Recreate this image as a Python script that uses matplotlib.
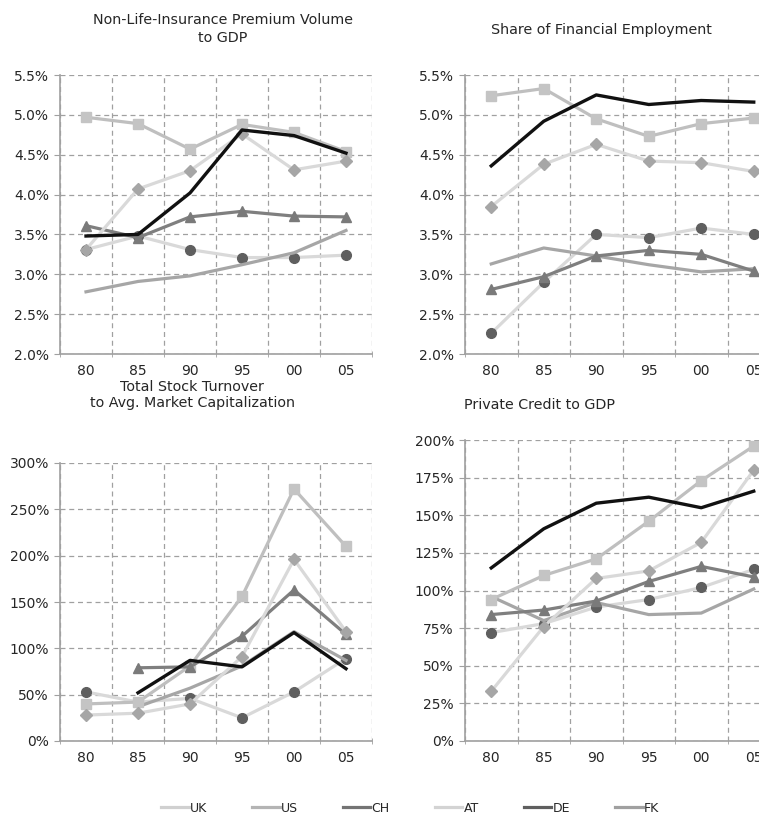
import numpy as np
import matplotlib
matplotlib.use("Agg")
import matplotlib.pyplot as plt
from matplotlib.lines import Line2D
from matplotlib.ticker import FixedLocator, FuncFormatter

years = ["80", "85", "90", "95", "00", "05"]
countries = ["UK", "US", "CH", "AT", "DE", "FK"]
nan = np.nan

# values in percent, one list per country
insurance = {
    "UK": [3.31, 4.07, 4.30, 4.76, 4.31, 4.42],
    "US": [4.97, 4.89, 4.57, 4.88, 4.78, 4.54],
    "CH": [3.61, 3.46, 3.72, 3.79, 3.73, 3.72],
    "AT": [3.31, 3.48, 3.31, 3.21, 3.21, 3.24],
    "DE": [3.48, 3.50, 4.02, 4.81, 4.74, 4.52],
    "FK": [2.78, 2.91, 2.98, 3.12, 3.27, 3.55],
}
employment = {
    "UK": [3.85, 4.38, 4.63, 4.42, 4.40, 4.29],
    "US": [5.24, 5.33, 4.95, 4.73, 4.89, 4.96],
    "CH": [2.81, 2.97, 3.23, 3.30, 3.25, 3.04],
    "AT": [2.26, 2.90, 3.50, 3.46, 3.58, 3.50],
    "DE": [4.36, 4.92, 5.25, 5.13, 5.18, 5.16],
    "FK": [3.13, 3.33, 3.23, 3.12, 3.03, 3.07],
}
turnover = {
    "UK": [28, 30, 40, 91, 196, 118],
    "US": [40, 42, 81, 156, 272, 210],
    "CH": [nan, 79, 80, 113, 163, 115],
    "AT": [53, 42, 46, 25, 53, 89],
    "DE": [nan, 52, 87, 80, 117, 78],
    "FK": [nan, 37, 57, 81, 118, 87],
}
credit = {
    "UK": [33, 76, 108, 113, 132, 180],
    "US": [94, 110, 121, 146, 173, 196],
    "CH": [84, 87, 93, 106, 116, 109],
    "AT": [72, 78, 89, 94, 102, 114],
    "DE": [115, 141, 158, 162, 155, 166],
    "FK": [96, 80, 92, 84, 85, 101],
}

# line colour, marker, marker colour, z-order
styles = {
    "AT": ("#d9d9d9", "o", "#5f5f5f", 2),
    "FK": ("#a6a6a6", None, None, 3),
    "US": ("#bfbfbf", "s", "#c4c4c4", 4),
    "CH": ("#7f7f7f", "^", "#7a7a7a", 5),
    "UK": ("#d9d9d9", "D", "#a6a6a6", 6),
    "DE": ("#111111", None, None, 7),
}
legend_colors = {"UK": "#d0d0d0", "US": "#b4b4b4", "CH": "#747474",
                 "AT": "#d3d3d3", "DE": "#5f5f5f", "FK": "#a0a0a0"}

txt = "#262626"
W, H = 759, 817
fig = plt.figure(figsize=(W / 100, H / 100), dpi=100)


def panel(rect, data, yticks, fmt):
    ax = fig.add_axes([rect[0] / W, 1 - rect[3] / H, (rect[2] - rect[0]) / W,
                       (rect[3] - rect[1]) / H])
    x = np.arange(len(years))
    for c in ["AT", "FK", "US", "CH", "UK", "DE"]:
        lc, mk, mc, z = styles[c]
        ax.plot(x, data[c], color=lc, lw=2.3 if c != "DE" else 2.4, marker=mk,
                ms=7 if mk != "D" else 6, mfc=mc, mec=mc, zorder=z)
    ax.set_xlim(-0.5, len(years) - 0.5)
    ax.set_ylim(yticks[0], yticks[-1])
    ax.set_xticks(x)
    ax.set_xticklabels(years)
    ax.xaxis.set_minor_locator(FixedLocator(np.arange(-0.5, len(years), 1.0)))
    ax.set_yticks(yticks)
    ax.yaxis.set_major_formatter(FuncFormatter(fmt))
    ax.tick_params(axis="x", which="major", length=0, pad=7, labelsize=10,
                   labelcolor=txt)
    ax.tick_params(axis="x", which="minor", length=5, color="#a0a0a0",
                   direction="inout")
    ax.tick_params(axis="y", length=4, color="#a0a0a0", pad=4, labelsize=10,
                   labelcolor=txt)
    ax.grid(True, axis="y", which="major", ls=(0, (4, 3)), color="#a0a0a0",
            lw=0.9)
    ax.grid(True, axis="x", which="minor", ls=(0, (4, 3)), color="#a0a0a0",
            lw=0.9)
    for s in ["top", "right"]:
        ax.spines[s].set_visible(False)
    for s in ["left", "bottom"]:
        ax.spines[s].set_color("#a0a0a0")
        ax.spines[s].set_linewidth(1.2)
    ax.set_axisbelow(True)
    return ax


pct1 = lambda v, p: f"{v:.1f}%"
pct0 = lambda v, p: f"{v:.0f}%"

panel((60, 75, 372, 354), insurance, np.arange(2.0, 5.51, 0.5), pct1)
panel((465, 75, 780, 354), employment, np.arange(2.0, 5.51, 0.5), pct1)
panel((60, 463, 372, 741), turnover, np.arange(0, 301, 50), pct0)
panel((465, 440, 780, 741), credit, np.arange(0, 201, 25), pct0)

fig.text(223 / W, 1 - 29 / H, "Non-Life-Insurance Premium Volume\nto GDP",
         ha="center", va="center", fontsize=10.3, color=txt, linespacing=1.3)
fig.text(601 / W, 1 - 30 / H, "Share of Financial Employment",
         ha="center", va="center", fontsize=10.3, color=txt)
fig.text(192 / W, 1 - 395 / H, "Total Stock Turnover\nto Avg. Market Capitalization",
         ha="center", va="center", fontsize=10.3, color=txt, linespacing=1.25)
fig.text(540 / W, 1 - 405 / H, "Private Credit to GDP",
         ha="center", va="center", fontsize=10.3, color=txt)

handles = [Line2D([], [], color=legend_colors[c], lw=2.3) for c in countries]
fig.legend(handles, countries, loc="center", bbox_to_anchor=(410 / W, 1 - 808 / H),
           ncol=6, frameon=False, fontsize=9, handlelength=2.2, handletextpad=0.1,
           columnspacing=3.6, labelcolor=txt)

fig.savefig("out.png", dpi=100)
